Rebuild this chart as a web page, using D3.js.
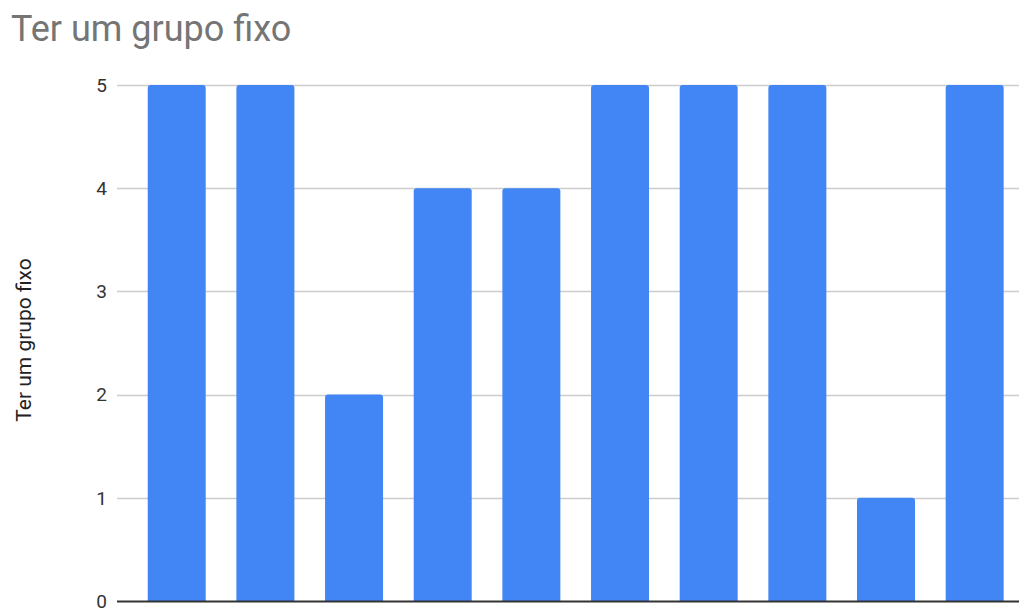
<!DOCTYPE html>
<html>
<head>
<meta charset="utf-8">
<script src="https://cdn.jsdelivr.net/npm/d3@7"></script>
<style>
  html, body { margin: 0; padding: 0; background: #fff; }
  svg { display: block; }
</style>
</head>
<body>
<svg id="chart" width="1019" height="608"></svg>
<script>
// Responses per item for "Ter um grupo fixo"
const categories = ["1", "2", "3", "4", "5", "6", "7", "8", "9", "10"];
const values = [5, 5, 2, 4, 4, 5, 5, 5, 1, 5];
const yTicks = [0, 1, 2, 3, 4, 5];
const titleText = "Ter um grupo fixo";
const yAxisLabel = "Ter um grupo fixo";

const svg = d3.select("#chart");
const plot = { left: 117, right: 1019, top: 85, bottom: 601 };

const x = d3.scaleBand()
  .domain(categories)
  .range([132.4, 1019])
  .paddingInner(0.346)
  .paddingOuter(0.173);

const y = d3.scaleLinear()
  .domain([0, 5])
  .range([plot.bottom, plot.top]);

// Title
svg.append("text")
  .attr("x", 11)
  .attr("y", 41)
  .attr("font-family", "Roboto, Arial, sans-serif")
  .attr("font-size", 36)
  .attr("fill", "#757575")
  .text(titleText);

// Horizontal gridlines
svg.append("g")
  .selectAll("line")
  .data(yTicks.filter(d => d !== 0))
  .join("line")
  .attr("x1", plot.left)
  .attr("x2", plot.right)
  .attr("y1", d => Math.round(y(d)) + 0.5)
  .attr("y2", d => Math.round(y(d)) + 0.5)
  .attr("stroke", "#cccccc")
  .attr("stroke-width", 1.5);

// Y tick labels
svg.append("g")
  .selectAll("text")
  .data(yTicks)
  .join("text")
  .attr("x", 107)
  .attr("y", d => y(d))
  .attr("dy", "0.36em")
  .attr("text-anchor", "end")
  .attr("font-family", "Roboto, Arial, sans-serif")
  .attr("font-size", 19)
  .attr("fill", "#333333")
  .text(d => d);

// Y axis title
svg.append("text")
  .attr("transform", "translate(31,340) rotate(-90)")
  .attr("text-anchor", "middle")
  .attr("font-family", "Roboto, Arial, sans-serif")
  .attr("font-size", 21)
  .attr("fill", "#222222")
  .text(yAxisLabel);

// Bars with slightly rounded top corners
const r = 3;
function barPath(d, i) {
  const x0 = x(categories[i]);
  const w = x.bandwidth();
  const yt = y(d);
  const yb = y(0);
  return `M${x0},${yb} L${x0},${yt + r} Q${x0},${yt} ${x0 + r},${yt} ` +
         `L${x0 + w - r},${yt} Q${x0 + w},${yt} ${x0 + w},${yt + r} L${x0 + w},${yb} Z`;
}
svg.append("g")
  .selectAll("path")
  .data(values)
  .join("path")
  .attr("d", barPath)
  .attr("fill", "#4285f4");

// Baseline
svg.append("line")
  .attr("x1", plot.left)
  .attr("x2", plot.right)
  .attr("y1", y(0) + 0.5)
  .attr("y2", y(0) + 0.5)
  .attr("stroke", "#333333")
  .attr("stroke-width", 2);
</script>
</body>
</html>
